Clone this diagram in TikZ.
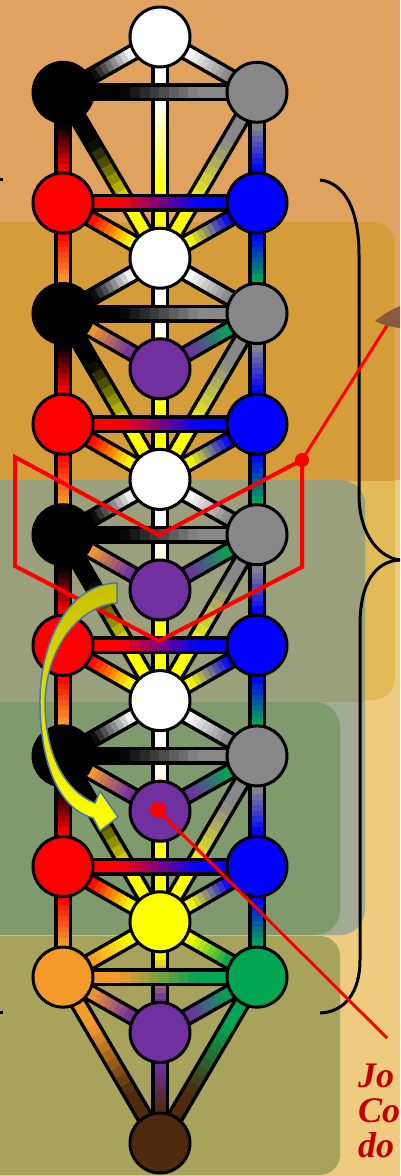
\documentclass[tikz,border=0pt]{standalone}
\usepackage{fontspec}
\newfontfamily\tnr{Liberation Serif}
\usetikzlibrary{calc}
\pgfdeclarelayer{panels}
\pgfdeclarelayer{lines}
\pgfdeclarelayer{front}
\pgfsetlayers{panels,lines,main,front}

\definecolor{cgray}{HTML}{888888}
\definecolor{cblue}{HTML}{0000FF}
\definecolor{cred}{HTML}{FF0000}
\definecolor{cyel}{HTML}{FFFF00}
\definecolor{corg}{HTML}{F39A2B}
\definecolor{cgrn}{HTML}{00A651}
\definecolor{cpur}{HTML}{7030A0}
\definecolor{cbrn}{HTML}{4F2A0C}
\definecolor{bgtop}{HTML}{E0A35F}
\definecolor{pale}{HTML}{EECB7E}
\definecolor{panA}{HTML}{D49D3A}
\definecolor{panAlow}{HTML}{E1BB57}
\definecolor{panB}{HTML}{99A07B}
\definecolor{panBlow}{HTML}{A2AC95}
\definecolor{panC}{HTML}{7F9A6D}
\definecolor{panD}{HTML}{A8A35C}
\definecolor{textred}{HTML}{C00000}
\definecolor{arrline}{HTML}{4A78A8}
\definecolor{arrdark}{HTML}{C9C000}
\definecolor{arrmid}{HTML}{E6E000}
\definecolor{blob}{HTML}{8A5A3E}

% gradient path between two named nodes: outline, then coloured core
\newcommand\gl[4]{%
  \draw[line width=18pt, black] (#1.center) -- (#2.center);
  \foreach \i in {0,...,19}{%
    \pgfmathsetmacro\glA{\i/20-0.004}%
    \pgfmathsetmacro\glB{(\i+1)/20+0.004}%
    \pgfmathtruncatemacro\glP{round(min(100,max(0,100*((\i+0.5)/20-0.5)/0.4+50)))}%
    \colorlet{gltmp}{#4!\glP!#3}%
    \draw[line width=11pt, gltmp] ($(#1.center)!\glA!(#2.center)$) -- ($(#1.center)!\glB!(#2.center)$);
  }%
}

\tikzset{
  seph/.style={circle, draw=black, line width=3pt, minimum size=60pt, inner sep=0pt},
  bracestyle/.style={draw=black, line width=3pt},
  redline/.style={draw=red, line width=3pt},
  reddot/.style={circle, fill=red, inner sep=0pt},
  redtext/.style={anchor=base west, inner sep=0pt, text=textred, font={\tnr\bfseries\itshape\fontsize{36}{36}\selectfont}}
}

\begin{document}
\begin{tikzpicture}[x=1pt, y=-1pt]
\useasboundingbox (0,0) rectangle (400,1176);
\clip (0,0) rectangle (400,1176);

% sephirot
\node[seph, fill=white] (c0) at (160,37) {};
\node[seph, fill=black] (l1) at (63,92.3) {};
\node[seph, fill=cgray] (r1) at (257,92.3) {};
\node[seph, fill=cred] (l3) at (63,202.9) {};
\node[seph, fill=cblue] (r3) at (257,202.9) {};
\node[seph, fill=white] (c4) at (160,258.2) {};
\node[seph, fill=black] (l5) at (63,313.5) {};
\node[seph, fill=cgray] (r5) at (257,313.5) {};
\node[seph, fill=cpur] (c6) at (160,368.8) {};
\node[seph, fill=cred] (l7) at (63,424.1) {};
\node[seph, fill=cblue] (r7) at (257,424.1) {};
\node[seph, fill=white] (c8) at (160,479.4) {};
\node[seph, fill=black] (l9) at (63,534.7) {};
\node[seph, fill=cgray] (r9) at (257,534.7) {};
\node[seph, fill=cpur] (c10) at (160,590) {};
\node[seph, fill=cred] (l11) at (63,645.3) {};
\node[seph, fill=cblue] (r11) at (257,645.3) {};
\node[seph, fill=white] (c12) at (160,700.6) {};
\node[seph, fill=black] (l13) at (63,755.9) {};
\node[seph, fill=cgray] (r13) at (257,755.9) {};
\node[seph, fill=cpur] (c14) at (160,811.2) {};
\node[seph, fill=cred] (l15) at (63,866.5) {};
\node[seph, fill=cblue] (r15) at (257,866.5) {};
\node[seph, fill=cyel] (c16) at (160,921.8) {};
\node[seph, fill=corg] (l17) at (63,977.1) {};
\node[seph, fill=cgrn] (r17) at (257,977.1) {};
\node[seph, fill=cpur] (c18) at (160,1032.4) {};
\node[seph, fill=cbrn] (c20) at (160,1143) {};

% background panels
\begin{pgfonlayer}{panels}
\fill[bgtop] (0,0) rectangle (400,1176);
\fill[pale] (0,480) rectangle (400,1176);
\fill[panAlow, rounded corners=22] (-30,222) rectangle (395,700);
\begin{scope}
  \clip (-40,0) rectangle (400,480);
  \fill[panA, rounded corners=22] (-30,222) rectangle (395,700);
\end{scope}
\fill[panBlow, rounded corners=25] (-30,480) rectangle (365,935);
\begin{scope}
  \clip (-40,0) rectangle (400,701);
  \fill[panB, rounded corners=25] (-30,480) rectangle (365,935);
\end{scope}
\fill[panC, rounded corners=25] (-30,702) rectangle (340,935);
\fill[panD, rounded corners=20] (-30,936) rectangle (340,1175);
\end{pgfonlayer}

% paths of the four overlapping trees
\begin{pgfonlayer}{lines}
\foreach \k in {0,4,8,12}{
  \pgfmathtruncatemacro\wA{\k+1}
  \pgfmathtruncatemacro\wB{\k+3}
  \pgfmathtruncatemacro\wT{\k+4}
  \pgfmathtruncatemacro\wN{\k+5}
  \pgfmathtruncatemacro\wY{\k+6}
  \pgfmathtruncatemacro\wM{\k+8}
  \gl{r\wA}{r\wB}{cgray}{cblue}
  \gl{l\wA}{l\wB}{black}{cred}
  \gl{r\wB}{r\wN}{cblue}{cgrn}
  \gl{l\wB}{l\wN}{cred}{corg}
  \gl{r\wN}{c\wM}{cgrn}{cbrn}
  \gl{l\wN}{c\wM}{corg}{cbrn}
  \gl{r\wN}{c\wY}{cgrn}{cpur}
  \gl{l\wN}{c\wY}{corg}{cpur}
  \gl{r\wA}{c\wT}{cgray}{cyel}
  \gl{l\wA}{c\wT}{black}{cyel}
  \gl{r\wB}{c\wT}{cblue}{cyel}
  \gl{l\wB}{c\wT}{cred}{cyel}
  \gl{r\wN}{c\wT}{cgrn}{cyel}
  \gl{l\wN}{c\wT}{corg}{cyel}
  \gl{c\k}{r\wA}{white}{cgray}
  \gl{c\k}{l\wA}{white}{black}
  \gl{c\wT}{c\wY}{cyel}{cpur}
  \gl{c\wY}{c\wM}{cpur}{cbrn}
  \gl{c\k}{c\wT}{white}{cyel}
  \gl{l\wA}{r\wA}{black}{cgray}
  \gl{l\wB}{r\wB}{cred}{cblue}
  \gl{l\wN}{r\wN}{corg}{cgrn}
}
\end{pgfonlayer}

% overlays
\begin{pgfonlayer}{front}
% braces
\draw[bracestyle] (320,180) .. controls (345,183) and (359,210) .. (359,255) -- (359,495) .. controls (359,535) and (380,558) .. (400,560);
\draw[bracestyle] (400,560) .. controls (376,561) and (360,582) .. (360,625) -- (360,960) .. controls (360,992) and (345,1012) .. (320,1013);
\fill[black] (0,178) rectangle (3,181);
\fill[black] (0,1011) rectangle (3,1014);

% red marks
\draw[red, line width=4pt, line join=miter] (15,457) -- (159,535) -- (302,460) -- (302,567) -- (159,641) -- (15,566) -- cycle;
\node[reddot, minimum size=14pt] (d1) at (302,460) {};
\coordinate (e1) at (388,324);
\draw[redline] (d1.center) -- (e1);
\fill[blob] (375,321) .. controls (385,313) and (393,309) .. (400,306) -- (400,328) .. controls (392,327) and (383,325) .. cycle;
\node[reddot, minimum size=16pt] (d2) at (158,810) {};
\coordinate (e2) at (387,1038);
\draw[redline] (d2.center) -- (e2);

% text
\node[redtext] (t1) at (358,1087) {Jo};
\node[redtext] (t2) at (358,1122) {Co};
\node[redtext] (t3) at (358,1157) {do};

% curved arrow
\draw[draw=arrline, line width=1.5pt, top color=arrdark, middle color=arrmid, bottom color=cyel, line join=miter]
  (117,583) .. controls (70,584) and (39,640) .. (40,705)
  .. controls (41,770) and (62,810) .. (93,818)
  -- (100,831) -- (118,817) -- (100,791) -- (95,803)
  .. controls (68,792) and (46,760) .. (45,705)
  .. controls (45,650) and (78,606) .. (117,603) -- cycle;
\end{pgfonlayer}
\end{tikzpicture}
\end{document}
